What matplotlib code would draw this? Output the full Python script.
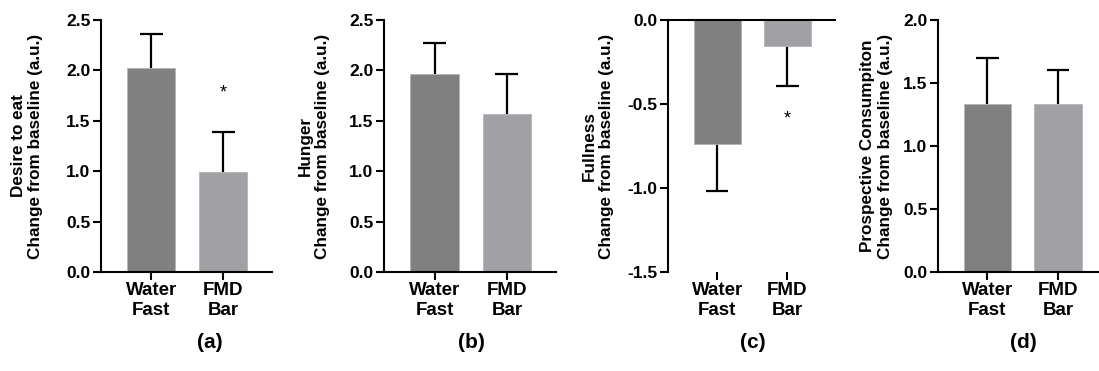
import matplotlib
matplotlib.use("Agg")
import matplotlib.pyplot as plt


# --------------------------------------------------
# Data
# --------------------------------------------------

groups = ["Water\nFast", "FMD\nBar"]

desire_mean = [2.02, 0.99]
desire_err = [0.34, 0.40]

hunger_mean = [1.96, 1.57]
hunger_err = [0.31, 0.39]

fullness_mean = [-0.74, -0.155]
fullness_err = [0.275, 0.24]

prospective_mean = [1.335, 1.33]
prospective_err = [0.365, 0.27]

# significance stars: (bar index, y value)
desire_star = (1, 1.83)
fullness_star = (1, -0.56)

panel_letters = ["(a)", "(b)", "(c)", "(d)"]
ylabels = [
    "Desire to eat\nChange from baseline (a.u.)",
    "Hunger\nChange from baseline (a.u.)",
    "Fullness\nChange from baseline (a.u.)",
    "Prospective Consumpiton\nChange from baseline (a.u.)",
]

bar_colors = ["#808080", "#a1a1a5"]

plt.rcParams["font.family"] = ["Liberation Sans", "DejaVu Sans"]
plt.rcParams["axes.unicode_minus"] = False


# --------------------------------------------------
# One panel
# --------------------------------------------------

def draw_panel(ax, means, errs, ylim, yticks, ylabel, label_x, star=None, negative=False):

    x = list(range(len(means)))

    # one-sided error bars (away from zero), cap only at the far end
    tips = [m - e if m < 0 else m + e for m, e in zip(means, errs)]
    cap = 0.16
    ax.vlines(x, means, tips, color="black", linewidth=1.6, zorder=1)
    ax.hlines(tips, [i - cap for i in x], [i + cap for i in x], color="black",
              linewidth=1.6, zorder=1)

    ax.bar(x, means, width=0.67, color=bar_colors, edgecolor="#b4b4b4",
           linewidth=0.6, zorder=2)

    if star is not None:
        ax.annotate("*", (star[0], star[1]), xytext=(0, -7), textcoords="offset points",
                    ha="center", va="baseline", fontsize=13)

    ax.set_xlim(-0.7, 1.68)
    ax.set_ylim(*ylim)
    ax.set_yticks(yticks)
    ax.set_yticklabels(["%.1f" % t for t in yticks])
    ax.set_xticks(x)
    ax.set_xticklabels(groups)

    for lab in ax.get_yticklabels():
        lab.set_fontweight("bold")
        lab.set_fontsize(12.5)
    for lab in ax.get_xticklabels():
        lab.set_fontweight("bold")
        lab.set_fontsize(13.5)

    ax.tick_params(axis="both", direction="out", length=5.5, width=1.5, pad=2)

    ax.spines["right"].set_visible(False)
    ax.spines["left"].set_linewidth(1.5)
    if negative:
        ax.spines["bottom"].set_visible(False)
        ax.spines["top"].set_linewidth(1.5)
    else:
        ax.spines["top"].set_visible(False)
        ax.spines["bottom"].set_linewidth(1.5)

    ax.set_ylabel(ylabel, fontsize=12.3, fontweight="bold")
    ax.yaxis.set_label_coords(label_x, 0.5)


# --------------------------------------------------
# MAIN
# --------------------------------------------------

def main():

    W, H = 1099, 371
    fig = plt.figure(figsize=(W / 100, H / 100), dpi=100)

    # axes boxes in pixels: left, width
    boxes = [(101, 171), (384, 172), (668, 167), (938, 168)]
    top_px, bottom_px = 20, 272

    axes = []
    for left, width in boxes:
        ax = fig.add_axes([left / W, (H - bottom_px) / H, width / W, (bottom_px - top_px) / H])
        axes.append(ax)

    draw_panel(axes[0], desire_mean, desire_err, (0, 2.5), [0, 0.5, 1.0, 1.5, 2.0, 2.5],
               ylabels[0], -0.339, star=desire_star)
    draw_panel(axes[1], hunger_mean, hunger_err, (0, 2.5), [0, 0.5, 1.0, 1.5, 2.0, 2.5],
               ylabels[1], -0.314)
    draw_panel(axes[2], fullness_mean, fullness_err, (-1.5, 0), [-1.5, -1.0, -0.5, 0.0],
               ylabels[2], -0.323, star=fullness_star, negative=True)
    draw_panel(axes[3], prospective_mean, prospective_err, (0, 2.0), [0, 0.5, 1.0, 1.5, 2.0],
               ylabels[3], -0.27)

    letter_x = [210, 471, 753, 1023]
    for lx, letter in zip(letter_x, panel_letters):
        fig.text(lx / W, 1 - 343 / H, letter, ha="center", va="center",
                 fontsize=15, fontweight="bold")

    fig.savefig("out.png", dpi=100)


if __name__ == "__main__":
    main()
